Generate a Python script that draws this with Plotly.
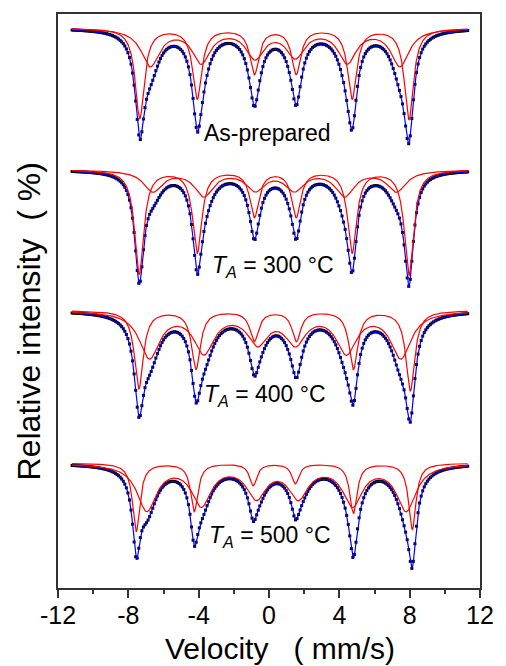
import numpy as np
import plotly.graph_objects as go

# ---- data (velocity in mm/s, intensity in arbitrary units) ----
spectra = ["As-prepared", "TA = 300 °C", "TA = 400 °C", "TA = 500 °C"]
label_text = ["As-prepared",
              "<i>T</i><sub><i>A</i></sub> = 300 °C",
              "<i>T</i><sub><i>A</i></sub> = 400 °C",
              "<i>T</i><sub><i>A</i></sub> = 500 °C"]
baselines = [561, 419, 278, 125]

# sharp sextet (line positions, depths, FWHM)
sharp_pos = [[-7.35, -4.08, -0.83, 1.55, 4.73, 7.96],
             [-7.38, -4.08, -0.83, 1.55, 4.73, 7.96],
             [-7.40, -4.15, -0.84, 1.56, 4.80, 8.04],
             [-7.55, -4.25, -0.90, 1.50, 4.80, 8.15]]
sharp_amp = [[90, 70, 45, 45, 70, 91],
             [104, 82, 46, 46, 82, 105],
             [78, 58, 30, 30, 58, 80],
             [68, 48, 22, 20, 50, 66]]
sharp_fwhm = [0.62, 0.62, 0.6, 0.5]

# broad sextet
broad_pos = [[-6.75, -3.85, -0.80, 1.50, 4.45, 7.45],
             [-6.60, -3.70, -0.78, 1.45, 4.30, 7.25],
             [-6.80, -3.70, -0.65, 1.50, 4.40, 7.50],
             [-6.95, -3.85, -0.72, 1.67, 4.75, 7.80]]
broad_amp = [[37, 33, 28, 27, 33, 37],
             [21, 25, 19, 19, 25, 21],
             [46, 40, 30, 30, 40, 46],
             [46, 40, 32, 32, 40, 46]]
broad_fwhm = [1.25, 1.3, 1.4, 1.35]

label_x = [-0.1, 0.2, -0.2, 0.05]
label_y = [456, 322, 193, 52]

x_ticks = [-12, -8, -4, 0, 4, 8, 12]

# channel velocities of the spectrometer
v_chan = np.linspace(-11.2, 11.3, 256)
v_fine = np.linspace(-11.2, 11.3, 1200)


def sextet(v, pos, amp, fwhm):
    hw = fwhm / 2.0
    out = np.zeros_like(v)
    for p, a in zip(pos, amp):
        out += a * hw ** 2 / ((v - p) ** 2 + hw ** 2)
    return out


fig = go.Figure()
for i in range(len(spectra)):
    b = baselines[i]
    s_fine = sextet(v_fine, sharp_pos[i], sharp_amp[i], sharp_fwhm[i])
    w_fine = sextet(v_fine, broad_pos[i], broad_amp[i], broad_fwhm[i])
    total_chan = b - sextet(v_chan, sharp_pos[i], sharp_amp[i], sharp_fwhm[i]) \
        - sextet(v_chan, broad_pos[i], broad_amp[i], broad_fwhm[i])
    fig.add_trace(go.Scatter(x=v_chan, y=total_chan, mode="markers",
                             marker=dict(symbol="square", size=3, color="black"),
                             showlegend=False, hoverinfo="skip"))
    fig.add_trace(go.Scatter(x=v_fine, y=b - s_fine - w_fine, mode="lines",
                             line=dict(color="#0000FF", width=1.2),
                             showlegend=False, hoverinfo="skip"))
    fig.add_trace(go.Scatter(x=v_fine, y=b - s_fine, mode="lines",
                             line=dict(color="#FF0000", width=1.2),
                             showlegend=False, hoverinfo="skip"))
    fig.add_trace(go.Scatter(x=v_fine, y=b - w_fine, mode="lines",
                             line=dict(color="#FF0000", width=1.2),
                             showlegend=False, hoverinfo="skip"))
    fig.add_annotation(x=label_x[i], y=label_y[i], text=label_text[i],
                       showarrow=False, xanchor="center", yanchor="middle",
                       font=dict(size=23, color="black"))

fig.add_annotation(xref="paper", yref="paper", x=-0.068, y=0.465,
                   text="Relative intensity&nbsp;&nbsp;( %)", textangle=-90, showarrow=False,
                   xanchor="center", yanchor="middle",
                   font=dict(size=32, color="black"))
fig.add_annotation(xref="paper", yref="paper", x=0.527, y=-0.105,
                   text="Velocity&nbsp;&nbsp;&nbsp;( mm/s)", showarrow=False,
                   xanchor="center", yanchor="middle",
                   font=dict(size=30, color="black"))

fig.update_layout(
    width=506, height=666,
    margin=dict(l=58, r=17, t=13, b=78),
    paper_bgcolor="white", plot_bgcolor="white",
    font=dict(family="Arial, Liberation Sans, sans-serif", color="black"),
)
fig.update_xaxes(range=[-12, 12], tickvals=x_ticks, ticktext=[str(t) for t in x_ticks],
                 ticks="outside", ticklen=8, tickwidth=1.5, tickcolor="#333",
                 minor=dict(dtick=2, tick0=0, ticks="outside", ticklen=4, tickwidth=1.5, tickcolor="#333"),
                 showline=True, linecolor="#333", linewidth=1.5, mirror=True,
                 showgrid=False, zeroline=False, tickfont=dict(size=25),
                 ticklabelstandoff=-4)
fig.update_yaxes(range=[0, 575], showticklabels=False, ticks="",
                 showline=True, linecolor="#333", linewidth=1.5, mirror=True,
                 showgrid=False, zeroline=False)

fig.write_html("out.html")
